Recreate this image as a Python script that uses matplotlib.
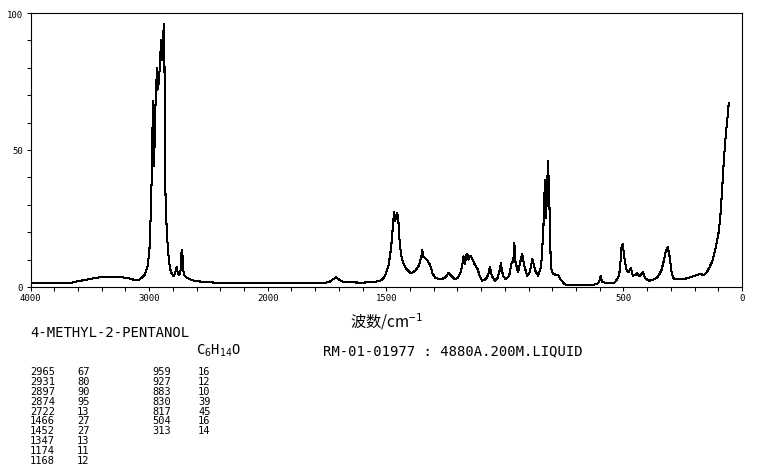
import numpy as np
import matplotlib
matplotlib.use("Agg")
from matplotlib import pyplot as plt

plt.rcParams["font.family"] = ["DejaVu Sans Mono", "Noto Sans CJK SC"]
plt.rcParams["mathtext.fontset"] = "custom"
plt.rcParams["mathtext.rm"] = "DejaVu Sans Mono"
plt.rcParams["mathtext.it"] = "DejaVu Sans Mono"

# spectrum trace (wavenumber / cm-1, relative intensity)
wavenumber = [
    4000, 3900, 3800, 3700, 3650, 3600, 3550, 3500, 3450, 3400, 3350, 3300,
    3250, 3200, 3150, 3117, 3090, 3061, 3035, 3010, 2995, 2985, 2975, 2968,
    2963, 2955, 2945, 2933, 2928, 2920, 2910, 2899, 2893, 2885, 2876, 2870,
    2866, 2860, 2850, 2840, 2825, 2810, 2795, 2780, 2768, 2755, 2745, 2735,
    2725, 2720, 2712, 2700, 2680, 2640, 2600, 2540, 2450, 2300, 2150, 2000,
    1950, 1900, 1850, 1800, 1760, 1740, 1725, 1712, 1700, 1685, 1660, 1600,
    1550, 1520, 1505, 1490, 1480, 1472, 1467, 1462, 1459, 1455, 1450, 1445,
    1438, 1430, 1415, 1400, 1390, 1375, 1362, 1352, 1348, 1344, 1335, 1325,
    1315, 1305, 1295, 1280, 1265, 1250, 1237, 1225, 1212, 1200, 1188, 1180,
    1174, 1168, 1163, 1158, 1153, 1145, 1138, 1128, 1115, 1105, 1095, 1080,
    1070, 1063, 1055, 1043, 1030, 1022, 1017, 1008, 997, 982, 972, 964,
    960, 955, 944, 937, 927, 918, 906, 895, 884, 872, 860, 847,
    838, 831, 826, 818, 812, 806, 797, 785, 775, 765, 750, 740,
    700, 650, 627, 612, 602, 596, 590, 580, 557, 536, 522, 515,
    508, 503, 498, 493, 486, 479, 468, 460, 448, 442, 431, 418,
    407, 390, 370, 355, 340, 330, 320, 313, 305, 298, 290, 276,
    250, 230, 205, 185, 177, 160, 148, 138, 125, 112, 100, 92,
    85, 76, 68, 62, 56,
]
intensity = [
    1.5, 1.5, 1.5, 1.5, 1.6, 2.1, 2.5, 2.9, 3.3, 3.7, 3.8, 3.7,
    3.6, 3.4, 3.0, 2.4, 2.5, 3.4, 4.5, 8.0, 15.0, 28.0, 45.0, 68.0,
    44.0, 50.0, 68.0, 80.0, 72.0, 74.0, 80.0, 90.0, 83.0, 86.0, 96.0, 80.0,
    45.0, 30.0, 20.0, 13.0, 7.0, 5.0, 4.0, 5.0, 7.3, 4.7, 4.5, 6.0,
    13.5, 13.0, 6.0, 4.0, 3.4, 2.5, 2.1, 1.9, 1.6, 1.6, 1.5, 1.4,
    1.3, 1.4, 1.3, 1.4, 1.5, 1.8, 2.8, 3.5, 2.8, 2.0, 1.7, 1.6,
    1.8, 2.5, 4.0, 8.0, 14.0, 22.0, 27.5, 24.0, 26.0, 27.0, 26.0, 18.0,
    12.0, 9.0, 6.6, 5.3, 5.2, 6.2, 8.0, 11.0, 13.6, 11.0, 10.5, 9.5,
    8.0, 5.0, 3.5, 3.0, 2.9, 3.6, 5.1, 4.0, 2.9, 3.2, 5.0, 7.8,
    11.2, 8.5, 11.5, 12.0, 10.0, 11.3, 10.5, 8.4, 6.6, 3.8, 2.3, 2.9,
    4.5, 7.2, 4.1, 2.3, 3.4, 6.0, 8.6, 4.2, 2.9, 4.0, 8.5, 9.6,
    16.0, 9.0, 5.4, 8.4, 12.0, 7.8, 4.1, 5.4, 10.2, 6.0, 4.1, 7.5,
    20.0, 39.0, 25.0, 46.0, 30.0, 7.0, 4.7, 4.5, 4.4, 2.8, 1.2, 0.7,
    0.7, 0.7, 0.8, 1.1, 2.0, 4.1, 2.0, 1.6, 1.3, 1.7, 3.5, 6.0,
    14.5, 15.7, 12.0, 9.0, 6.0, 5.4, 6.8, 4.1, 4.4, 5.0, 3.9, 5.4,
    3.0, 2.3, 2.8, 3.7, 6.0, 9.5, 13.5, 14.5, 11.0, 6.0, 3.2, 2.8,
    2.9, 3.2, 3.9, 4.5, 4.7, 4.4, 5.5, 7.0, 9.5, 14.0, 19.0, 25.0,
    34.0, 47.0, 56.0, 61.0, 67.0,
]

# peak table
peak_pos_1 = ["2965", "2931", "2897", "2874", "2722", "1466", "1452", "1347", "1174", "1168"]
peak_int_1 = ["67", "80", "90", "95", "13", "27", "27", "13", "11", "12"]
peak_pos_2 = ["959", "927", "883", "830", "817", "504", "313"]
peak_int_2 = ["16", "12", "10", "39", "45", "16", "14"]

x_major = [4000, 3000, 2000, 1500, 500, 0]
x_minor = list(range(2200, 4000, 200)) + list(range(100, 2000, 100))

W, H = 761, 477


def fwd(x):
    x = np.asarray(x, dtype=float)
    return np.where(x <= 2000, x, 2000 + (x - 2000) / 2)


def inv(x):
    x = np.asarray(x, dtype=float)
    return np.where(x <= 2000, x, 2000 + (x - 2000) * 2)


def px(x, y):
    return x / W, 1 - y / H


fig = plt.figure(figsize=(W / 100, H / 100), dpi=100)
ax = fig.add_axes([30.5 / W, 1 - 288 / H, (742 - 30.5) / W, (288 - 14) / H])
ax.set_xscale("function", functions=(fwd, inv))
ax.plot(wavenumber, intensity, color="black", lw=0.75, antialiased=False)
ax.set_xlim(4000, 0)
ax.set_ylim(0, 100)

ax.set_xticks(x_major)
ax.set_xticks([v for v in x_minor if v not in x_major], minor=True)
ax.set_xticklabels([str(v) for v in x_major])
ax.set_yticks([0, 50, 100])
ax.set_yticks([v for v in range(10, 100, 10) if v != 50], minor=True)
ax.tick_params(which="both", direction="out", length=3, width=0.75, labelsize=6.5, color="black")
ax.tick_params(axis="x", pad=1.5)
ax.tick_params(axis="y", pad=2.5)
for s in ax.spines.values():
    s.set_linewidth(0.8)
    s.set_color("black")

ax.set_xlabel("波数/cm$^{-1}$", fontsize=11, family=["Noto Sans CJK SC", "DejaVu Sans"], labelpad=6)

# header text
fig.text(*px(30, 333), "4-METHYL-2-PENTANOL", fontsize=10, va="center", ha="left")
fig.text(*px(196, 351), "C$_6$H$_{14}$O", fontsize=10, va="center", ha="left")
fig.text(*px(323, 351), "RM-01-01977 : 4880A.200M.LIQUID", fontsize=10, va="center", ha="left")

# peak list
row_y0, row_dy = 372, 9.9
for i, (p, v) in enumerate(zip(peak_pos_1, peak_int_1)):
    fig.text(*px(30, row_y0 + i * row_dy), p, fontsize=7.5, va="center", ha="left")
    fig.text(*px(77, row_y0 + i * row_dy), v, fontsize=7.5, va="center", ha="left")
for i, (p, v) in enumerate(zip(peak_pos_2, peak_int_2)):
    fig.text(*px(152, row_y0 + i * row_dy), p, fontsize=7.5, va="center", ha="left")
    fig.text(*px(198, row_y0 + i * row_dy), v, fontsize=7.5, va="center", ha="left")

fig.savefig("out.png", dpi=100)
